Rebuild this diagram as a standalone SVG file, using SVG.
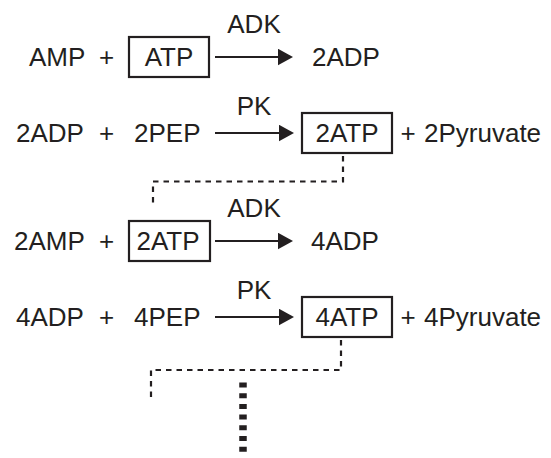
<svg xmlns="http://www.w3.org/2000/svg" width="551" height="458" viewBox="0 0 551 458">
<style>
text{font-family:"Liberation Sans",Arial,sans-serif;font-size:26px;fill:#231f20}
.m{text-anchor:middle}
.box{fill:none;stroke:#231f20;stroke-width:2.2}
.arr{stroke:#231f20;stroke-width:2.2;fill:none}
.dash{stroke:#231f20;stroke-width:2.2;fill:none;stroke-dasharray:5.5 5}
.thick{stroke:#231f20;stroke-width:7.5;fill:none;stroke-dasharray:5 5.7}
</style>
<defs>
<marker id="ah" viewBox="0 0 15.5 17" refX="2.5" refY="8.5" markerWidth="15.5" markerHeight="17" markerUnits="userSpaceOnUse" orient="auto">
<path d="M0,0 L15.5,8.5 L0,17 z" fill="#231f20"/>
</marker>
</defs>
<rect width="551" height="458" fill="#ffffff"/>

<g id="row1">
<text x="29" y="65.7">AMP</text>
<text x="99" y="65.7">+</text>
<g id="atp1"><rect class="box" x="129" y="37" width="80" height="40"/><text class="m" x="169" y="65.7">ATP</text></g>
<text class="m" x="254" y="33">ADK</text>
<text x="312" y="65.7">2ADP</text>
</g>

<g id="row2">
<text x="16" y="141.7">2ADP</text>
<text x="99" y="141.7">+</text>
<text x="134" y="141.7">2PEP</text>
<text class="m" x="254" y="115">PK</text>
<g id="atp2"><rect class="box" x="302" y="113" width="90" height="40"/><text class="m" x="347" y="141.7">2ATP</text></g>
<text x="400.5" y="141.7">+</text>
<text x="424" y="141.7">2Pyruvate</text>
</g>

<g id="row3">
<text x="14" y="249.7">2AMP</text>
<text x="99" y="249.7">+</text>
<g id="atp3"><rect class="box" x="129" y="221" width="81" height="40"/><text class="m" x="168" y="249.7">2ATP</text></g>
<text class="m" x="254" y="216.7">ADK</text>
<text x="311" y="249.7">4ADP</text>
</g>

<g id="row4">
<text x="16" y="325.7">4ADP</text>
<text x="99" y="325.7">+</text>
<text x="134" y="325.7">4PEP</text>
<text class="m" x="254" y="299">PK</text>
<g id="atp4"><rect class="box" x="302" y="297" width="90" height="40"/><text class="m" x="347" y="325.7">4ATP</text></g>
<text x="400.5" y="325.7">+</text>
<text x="424" y="325.7">4Pyruvate</text>
</g>

<g id="connectors">
<line class="arr" x1="215" y1="57" x2="280" y2="57" marker-end="url(#ah)"/>
<line class="arr" x1="215" y1="133" x2="281" y2="133" marker-end="url(#ah)"/>
<line class="arr" x1="215" y1="241" x2="280" y2="241" marker-end="url(#ah)"/>
<line class="arr" x1="215" y1="317" x2="281" y2="317" marker-end="url(#ah)"/>
<path class="dash" d="M343,156 V181.5 H153 V207"/>
<path class="dash" d="M341,340 V370 H151 V402"/>
<line class="thick" x1="243" y1="382.5" x2="243" y2="452"/>
</g>
</svg>
